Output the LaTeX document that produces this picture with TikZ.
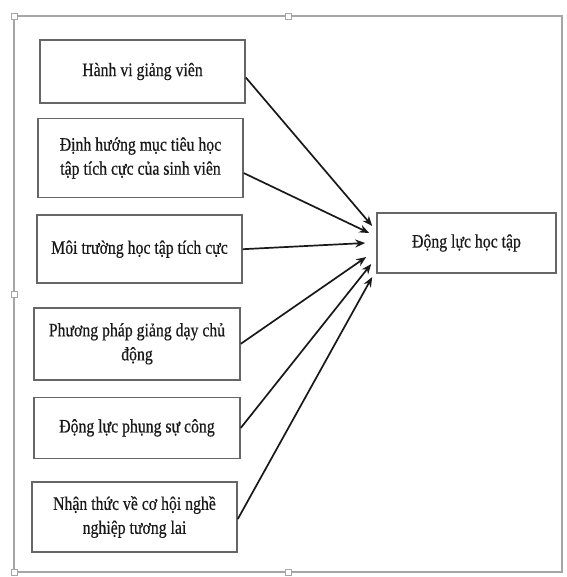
\documentclass[tikz,border=0pt]{standalone}
\usepackage{fontspec}
\setmainfont[FakeStretch=0.83,FakeBold=0.6]{Liberation Serif}
\usetikzlibrary{arrows.meta,positioning}

\begin{document}
\begin{tikzpicture}[x=1pt, y=-1pt, node distance=18pt,
    every node/.style={font=\fontsize{19}{24}\selectfont, text=black!90},
    box/.style={draw=black!60, line width=1.6pt, minimum width=205pt, align=center, inner sep=3pt},
    arr/.style={-{Stealth[length=10pt,width=8pt]}, line width=1.7pt, black!90},
    handle/.style={draw=black!35, fill=white, line width=0.8pt, minimum size=6pt, inner sep=0pt}]
    \useasboundingbox (0,0) rectangle (566,577);
    % selection frame
    \draw[black!35, line width=1.6pt] (14,16) rectangle (562,572);
    \node[handle] (hnw) at (14,16) {};
    \node[handle] (hn) at (288,16) {};
    \node[handle] (hw) at (14,294) {};
    \node[handle] (hsw) at (14,572) {};
    \node[handle] (hs) at (288,572) {};
    % factors
    \node[box, minimum height=63pt] (hv) at (142.5,71.5) {Hành vi giảng viên};
    \node[box, minimum height=79pt, below=14pt of hv, xshift=-2pt] (dh) {Định hướng mục tiêu học\\tập tích cực của sinh viên};
    \node[box, minimum height=68pt, below=16pt of dh, xshift=-1pt] (mt) {Môi trường học tập tích cực};
    \node[box, minimum height=72pt, minimum width=206pt, below=23pt of mt, xshift=-2.5pt] (pp) {Phương pháp giảng dạy chủ\\động};
    \node[box, minimum height=61pt, minimum width=206pt, below=16pt of pp] (dl) {Động lực phụng sự công};
    \node[box, minimum height=70pt, below=22pt of dl, xshift=-2.5pt] (nt) {Nhận thức về cơ hội nghề\\nghiệp tương lai};
    % outcome
    \node[box, minimum width=179pt, minimum height=60pt] (dlht) at (466.5,243) {Động lực học tập};
    \draw[arr] ([yshift=-6pt]hv.east) -- ([xshift=-4pt,yshift=17pt]dlht.west);
    \draw[arr] ([yshift=-15pt]dh.east) -- ([xshift=-7pt,yshift=10pt]dlht.west);
    \draw[arr] (mt.east) -- ([xshift=-11pt]dlht.west);
    \draw[arr] (pp.east) -- ([xshift=-10pt,yshift=-14pt]dlht.west);
    \draw[arr] (dl.east) -- ([xshift=-5pt,yshift=-21pt]dlht.west);
    \draw[arr] ([yshift=-2pt]nt.east) -- ([xshift=-4pt,yshift=-34pt]dlht.west);
\end{tikzpicture}
\end{document}
